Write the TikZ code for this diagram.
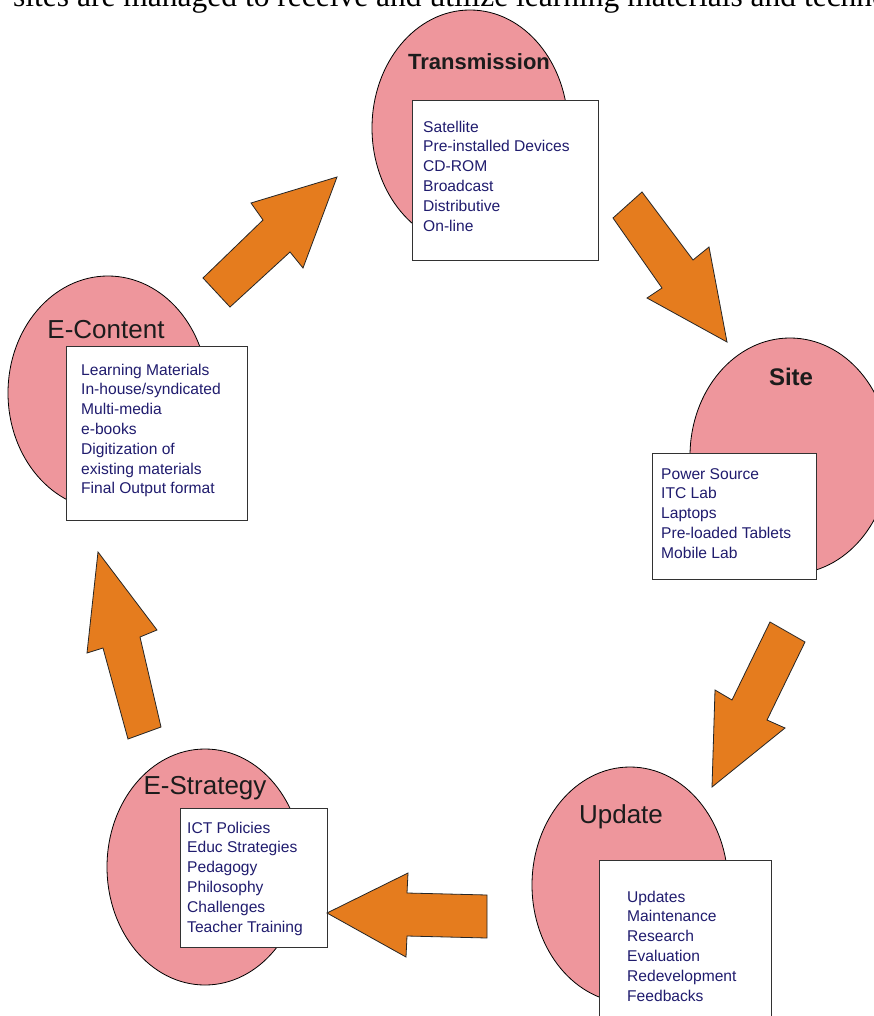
\documentclass[tikz,border=0pt]{standalone}
\usepackage{fontspec}
\setmainfont{Liberation Sans}
\newfontfamily\serifont{Liberation Serif}
\usetikzlibrary{shapes.geometric}
\definecolor{pinkfill}{RGB}{238,150,156}
\definecolor{orangefill}{RGB}{229,124,30}
\definecolor{navytext}{RGB}{32,28,110}
\definecolor{titletext}{RGB}{28,28,28}
\definecolor{boxline}{RGB}{50,50,50}
\begin{document}
\begin{tikzpicture}[x=1pt,y=-1pt,
 stage/.style={ellipse, draw=black, line width=0.8pt, fill=pinkfill, inner sep=0pt},
 listbox/.style={rectangle, draw=boxline, line width=0.9pt, fill=white, inner sep=0pt, anchor=north west},
 items/.style={anchor=north west, inner sep=0pt, align=left, text=navytext, font=\fontsize{15.6}{19.8}\selectfont},
 title/.style={anchor=base, inner sep=0pt, text=titletext, font=\fontsize{26}{30}\selectfont},
 boldtitle/.style={title, font=\bfseries\fontsize{22}{26}\selectfont},
 blockarrow/.style={fill=orangefill, draw=black!85, line width=0.8pt, line join=miter}]
\useasboundingbox (0,0) rectangle (874,1016);
\clip (0,0) rectangle (874,1016);
\fill[white] (0,0) rectangle (874,1016);

% intro line (cut off at top)
\node[anchor=base west, inner sep=0pt, font=\serifont\fontsize{31.5}{36}\selectfont] (intro) at (13,7) {sites are managed to receive and utilize learning materials and technologies};

% stages
\node[stage, minimum width=196pt, minimum height=236pt] (trans) at (470,128) {};
\node[stage, minimum width=200pt, minimum height=234pt] (econt) at (108,393) {};
\node[stage, minimum width=200pt, minimum height=236pt] (site) at (790,456) {};
\node[stage, minimum width=196pt, minimum height=236pt] (upd) at (630,885) {};
\node[stage, minimum width=196pt, minimum height=236pt] (estr) at (205,867) {};

% titles
\node[boldtitle] (transT) at (479,70) {Transmission};
\node[title] (econtT) at (106,338) {E-Content};
\node[boldtitle, font=\bfseries\fontsize{24}{28}\selectfont] (siteT) at (791,385) {Site};
\node[title] (updT) at (621,823) {Update};
\node[title] (estrT) at (205,794) {E-Strategy};

% list boxes
\node[listbox, minimum width=186pt, minimum height=160pt] (tbox) at (412,100) {};
\node[listbox, minimum width=181pt, minimum height=174pt] (ebox) at (66,346) {};
\node[listbox, minimum width=164pt, minimum height=126pt] (sbox) at (652,453) {};
\node[listbox, minimum width=172pt, minimum height=170pt] (ubox) at (599,860) {};
\node[listbox, minimum width=147pt, minimum height=139pt] (esbox) at (180,808) {};

\node[items] (titems) at (423,118.1) {\strut Satellite\\Pre-installed Devices\\CD-ROM\\Broadcast\\Distributive\\On-line};
\node[items] (eitems) at (81,361.1) {\strut Learning Materials\\In-house/syndicated\\Multi-media\\e-books\\Digitization of\\existing materials\\Final Output format};
\node[items] (sitems) at (661,465.1) {\strut Power Source\\ITC Lab\\Laptops\\Pre-loaded Tablets\\Mobile Lab};
\node[items] (uitems) at (627,888.1) {\strut Updates\\Maintenance\\Research\\Evaluation\\Redevelopment\\Feedbacks};
\node[items] (esitems) at (187,819.1) {\strut ICT Policies\\Educ Strategies\\Pedagogy\\Philosophy\\Challenges\\Teacher Training};

% block arrows
\draw[blockarrow] (203,278) -- (263,220) -- (251,203) -- (337,177) -- (303,268) -- (290,252) -- (230,307) -- cycle;
\draw[blockarrow] (613,218) -- (642,192) -- (693,260) -- (709,247) -- (727,342) -- (647,298) -- (662,288) -- cycle;
\draw[blockarrow] (770,622) -- (805,642) -- (767,720) -- (785,728) -- (712,787) -- (715,690) -- (732,700) -- cycle;
\draw[blockarrow] (327,913) -- (408,873) -- (407,893) -- (487,895) -- (487,938) -- (407,936) -- (406,957) -- cycle;
\draw[blockarrow] (98,552) -- (157,630) -- (140,637) -- (161,727) -- (128,739) -- (103,648) -- (87,653) -- cycle;
\end{tikzpicture}
\end{document}
